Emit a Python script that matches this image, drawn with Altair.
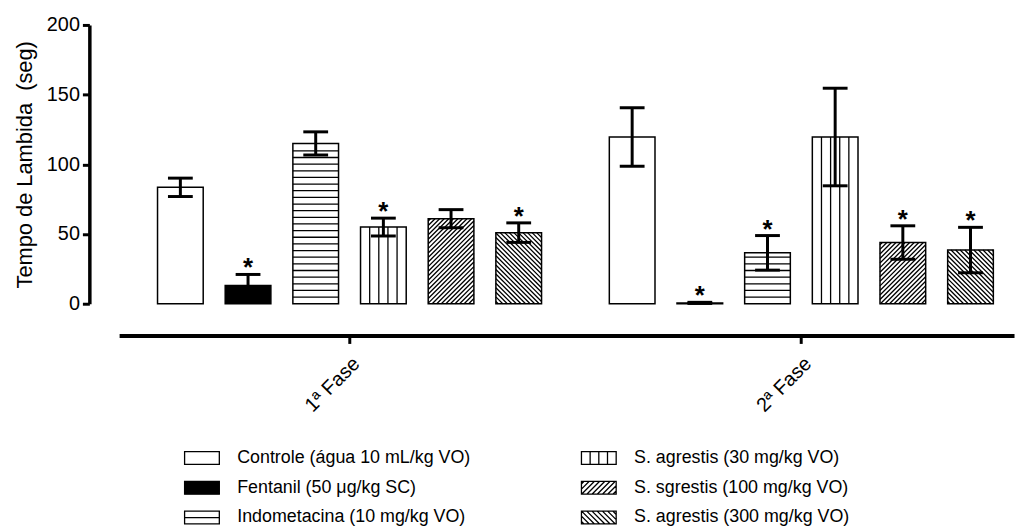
import altair as alt
import pandas as pd

# ---------------- data ----------------
phases = ["1ª Fase", "2ª Fase"]
treatments = [
    "Controle (água 10 mL/kg VO)",
    "Fentanil (50 μg/kg SC)",
    "Indometacina (10 mg/kg VO)",
    "S. agrestis (30 mg/kg VO)",
    "S. sgrestis (100 mg/kg VO)",
    "S. agrestis (300 mg/kg VO)",
]
mean_fase1 = [83.5, 13.0, 115.0, 55.0, 61.0, 51.0]
sem_fase1 = [6.6, 8.0, 8.3, 6.4, 6.5, 7.0]
sig_fase1 = [0, 1, 0, 1, 0, 1]
mean_fase2 = [119.6, 0.6, 36.5, 119.6, 43.9, 38.5]
sem_fase2 = [21.0, 0.4, 12.4, 35.0, 12.0, 16.3]
sig_fase2 = [0, 1, 1, 0, 1, 1]
patterns = ["empty", "solid", "horizontal", "vertical", "diag_up", "diag_down"]
legend_col = [0, 0, 0, 1, 1, 1]
legend_row = [0, 1, 2, 0, 1, 2]
y_ticks = [0, 50, 100, 150, 200]

# ---------------- layout / style ----------------
PLOT_W, PLOT_H = 902, 281
Y_MAX = 200
BAR_W = 46.0
FONT = "Liberation Sans"


def clip_diag(hw, hh, period, kind):
    """segments of a hatch (in unit symbol coords) clipped to a rectangle."""
    segs = []
    c = -hw - hh + period / 2
    while c < hw + hh:
        if kind == "diag_up":  # x + y = c
            y1, y2 = max(-hh, c - hw), min(hh, c + hw)
            if y2 > y1:
                segs.append(f"M{c - y1:.3f},{y1:.3f}L{c - y2:.3f},{y2:.3f}")
        else:  # x - y = c
            y1, y2 = max(-hh, -hw - c), min(hh, hw - c)
            if y2 > y1:
                segs.append(f"M{c + y1:.3f},{y1:.3f}L{c + y2:.3f},{y2:.3f}")
        c += period
    return "".join(segs)


def bar_hatch(kind, value):
    unit = BAR_W / 2.0
    h_px = value * PLOT_H / Y_MAX
    hh = h_px / 2.0 / unit
    if kind == "horizontal":
        segs, k = [], 1
        while k * 6.7 < h_px - 1:
            y = hh - k * 6.7 / unit
            segs.append(f"M-1,{y:.3f}H1")
            k += 1
        return "".join(segs)
    if kind == "vertical":
        return "".join(f"M{x},{-hh:.3f}V{hh:.3f}" for x in (-0.6, -0.2, 0.2, 0.6))
    if kind in ("diag_up", "diag_down"):
        return clip_diag(1.0, hh, 4.6 / unit, kind)
    return ""


def legend_shape(kind):
    hh = 6.5 / 17.5
    rect = f"M-1,{-hh:.3f}H1V{hh:.3f}H-1Z"
    if kind == "horizontal":
        return rect + "M-1,0H1"
    if kind == "vertical":
        return rect + "".join(f"M{x},{-hh:.3f}V{hh:.3f}" for x in (-0.5, 0, 0.5))
    if kind in ("diag_up", "diag_down"):
        return rect + clip_diag(1.0, hh, 0.3, kind)
    return rect


rows = []
for ph, means, sems, sigs in [
    (phases[0], mean_fase1, sem_fase1, sig_fase1),
    (phases[1], mean_fase2, sem_fase2, sig_fase2),
]:
    for t, m, s, g, p in zip(treatments, means, sems, sigs, patterns):
        rows.append(dict(phase=ph, treat=t, mean=m, lo=m - s, hi=m + s, sig=g,
                         hatch=bar_hatch(p, m)))
df = pd.DataFrame(rows)

leg = pd.DataFrame(dict(label=treatments, col=legend_col, row=legend_row,
                        shape=[legend_shape(p) for p in patterns]))

# ---------------- encodings ----------------
x_enc = alt.X(
    "phase:N",
    scale=alt.Scale(domain=phases, paddingInner=0.15, paddingOuter=0.0654, align=0.65),
    axis=alt.Axis(title=None, labelAngle=-45, labelAlign="right", labelBaseline="top",
                  labelFontSize=20, labelColor="black", labelPadding=10,
                  domainColor="black", domainWidth=4, tickColor="black",
                  tickWidth=3, tickSize=8, offset=32, grid=False),
)
xo_enc = alt.XOffset("treat:N",
                     scale=alt.Scale(domain=treatments, paddingInner=0.325, paddingOuter=0))
y_scale = alt.Scale(domain=[0, Y_MAX], nice=False)
y_axis = alt.Axis(values=y_ticks, title="Tempo de Lambida\u00a0 (seg)", titleFontSize=22,
                  titleFontWeight="normal", titleColor="black", titlePadding=10,
                  labelFontSize=20, labelColor="black", labelPadding=3,
                  domainColor="black", domainWidth=3.5, tickColor="black",
                  tickWidth=3, tickSize=7, offset=30, grid=False)

no_frame = alt.ViewBackground(stroke="transparent", strokeWidth=0)

base = alt.Chart(df)

bars = base.mark_bar(stroke="black", strokeWidth=1.5).encode(
    x=x_enc, xOffset=xo_enc,
    y=alt.Y("mean:Q", scale=y_scale, axis=y_axis),
    fill=alt.condition(alt.datum.treat == treatments[1], alt.value("black"), alt.value("white")),
)

hatch = base.transform_filter(alt.datum.hatch != "").transform_calculate(
    mid="datum.mean / 2"
).mark_point(filled=False, stroke="black", strokeWidth=1.3, opacity=1,
             size=BAR_W * BAR_W).encode(
    x=x_enc, xOffset=xo_enc,
    y=alt.Y("mid:Q", scale=y_scale),
    shape=alt.Shape("hatch:N", scale=None),
)

err = base.mark_rule(color="black", strokeWidth=3).encode(
    x=x_enc, xOffset=xo_enc, y=alt.Y("lo:Q", scale=y_scale), y2="hi:Q"
)
cap_hi = base.mark_tick(color="black", size=25, thickness=3, opacity=1).encode(
    x=x_enc, xOffset=xo_enc, y=alt.Y("hi:Q", scale=y_scale)
)
cap_lo = base.mark_tick(color="black", size=25, thickness=3, opacity=1).encode(
    x=x_enc, xOffset=xo_enc, y=alt.Y("lo:Q", scale=y_scale)
)
stars = base.transform_filter(alt.datum.sig == 1).mark_text(
    text="*", fontSize=26, fontWeight="bold", baseline="alphabetic", dy=2, color="black"
).encode(x=x_enc, xOffset=xo_enc, y=alt.Y("hi:Q", scale=y_scale))

main = alt.layer(bars, hatch, err, cap_hi, cap_lo, stars).properties(view=no_frame)

# ---------------- legend (drawn below the axis) ----------------
lx = alt.X("col:O", scale=alt.Scale(type="point", domain=[0, 1], range=[83.5, 483.5], padding=0),
           axis=None)
ly = alt.Y("row:O", scale=alt.Scale(type="point", domain=[0, 1, 2], range=[436.5, 496.5], padding=0),
           axis=None)
lbase = alt.Chart(leg)
leg_sym = lbase.mark_point(filled=True, stroke="black", strokeWidth=1.3, opacity=1,
                           size=35 * 35).encode(
    x=lx, y=ly, shape=alt.Shape("shape:N", scale=None),
    fill=alt.condition(alt.datum.label == treatments[1], alt.value("black"), alt.value("white")),
)
leg_txt = lbase.mark_text(align="left", baseline="middle", dx=35.5, fontSize=18,
                          color="black").encode(x=lx, y=ly, text="label:N")
legend = alt.layer(leg_sym, leg_txt).properties(view=no_frame)

chart = alt.layer(main, legend).resolve_scale(x="independent", y="independent").properties(
    width=PLOT_W, height=PLOT_H, view=no_frame,
    padding={"left": 5, "top": 5, "right": 3, "bottom": 2},
).configure_view(stroke="transparent", strokeWidth=0).configure(font=FONT)

chart.save("out.html", embed_options={"renderer": "svg", "actions": False})
